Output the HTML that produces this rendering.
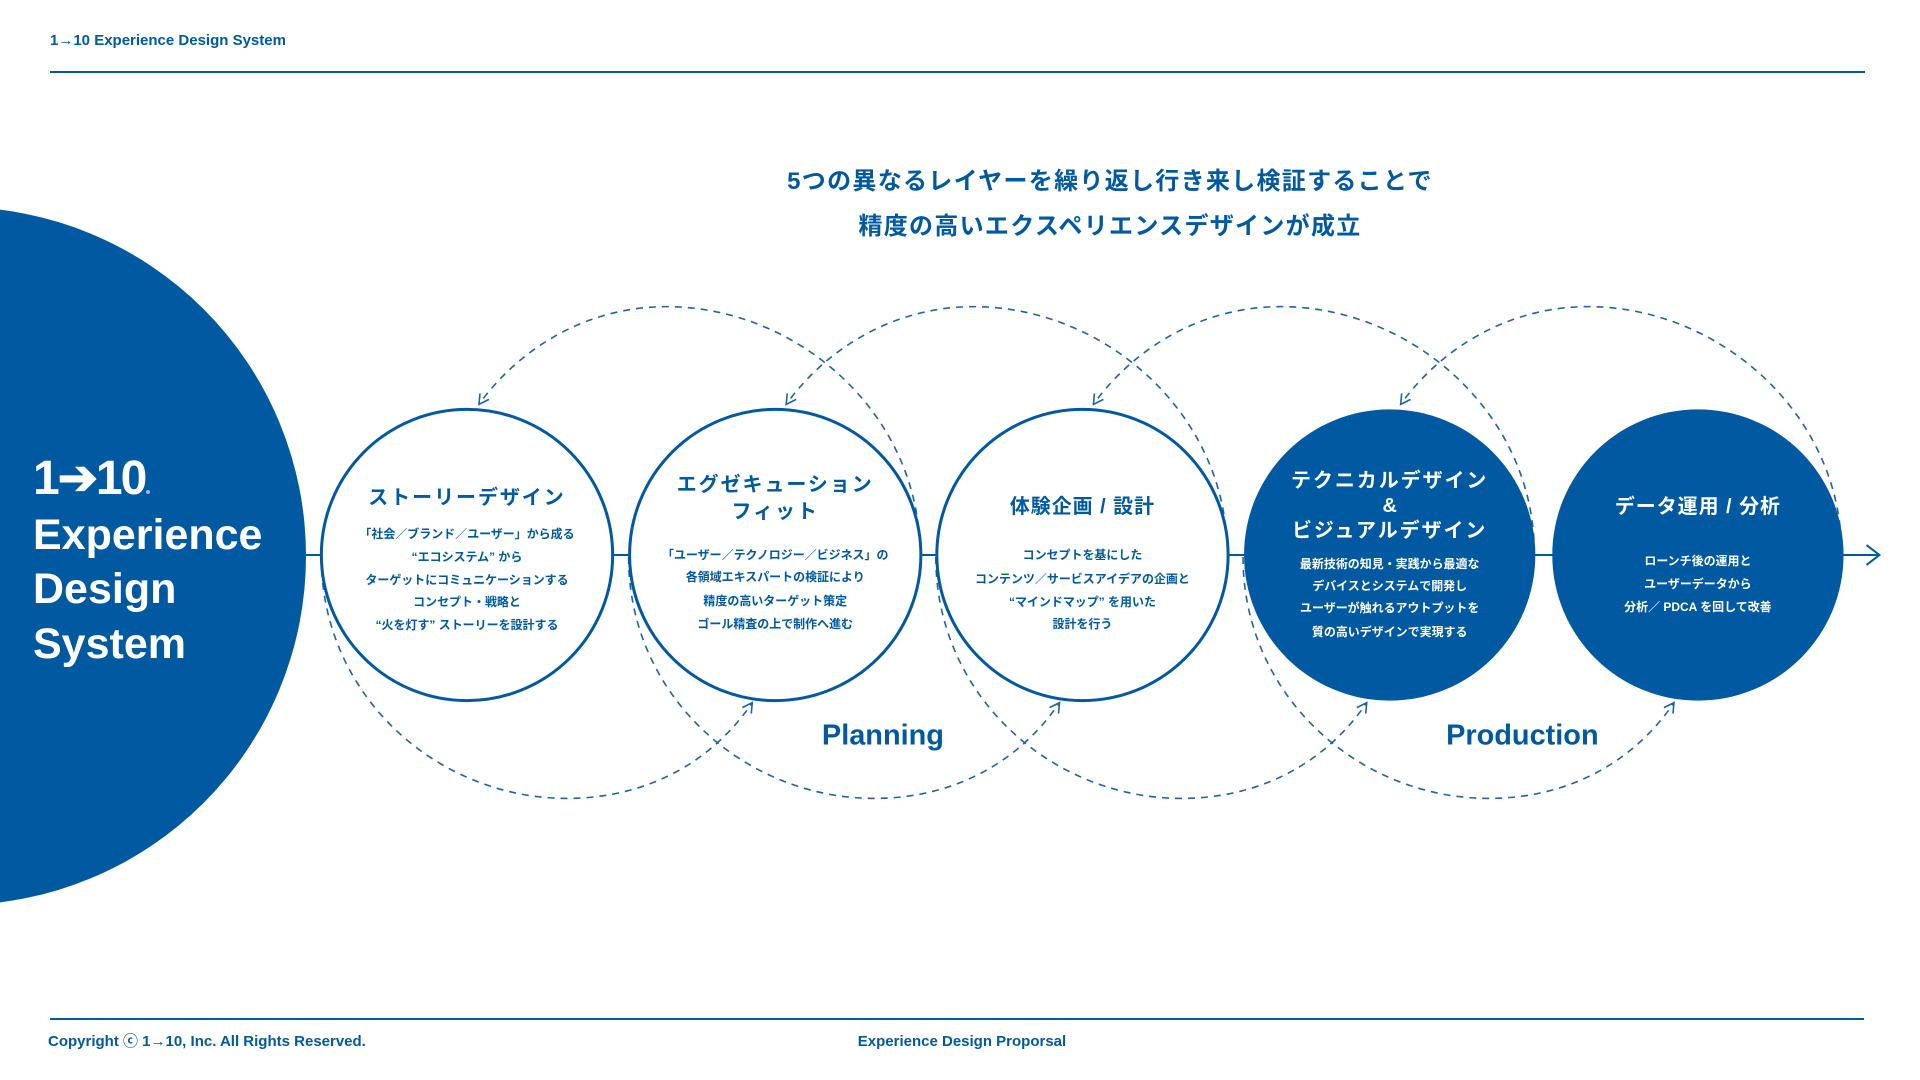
<!DOCTYPE html>
<html><head><meta charset="utf-8"><style>
html,body{margin:0;padding:0;background:#fff;}
svg{display:block}
text{font-family:"Liberation Sans","Noto Sans CJK JP",sans-serif;}
</style></head><body>
<svg width="1920" height="1080" viewBox="0 0 1920 1080" xmlns="http://www.w3.org/2000/svg">
<defs>
<g id="loop" fill="none" stroke="#1f63a6" stroke-width="1.6" stroke-dasharray="7 6">
  <path d="M323,560 C323,700 440,802 569,802 C650,802 715,765 755,706"/>
  <path d="M923,556 C923,416 800,309 669,309 C590,309 522,350 481,407"/>
</g>
<g id="arr" fill="none" stroke="#1f63a6" stroke-width="1.6">
  <path d="M491,402 L481,407 L482,396"/>
  <path d="M745,711 L755,706 L754,717"/>
</g>
</defs>
<g fill="#0059a1" font-weight="bold">
<text x="50" y="45" font-size="15">1→10 Experience Design System</text>
</g>
<line x1="50" y1="72" x2="1865" y2="72" stroke="#0059a1" stroke-width="2"/>
<line x1="50" y1="1019" x2="1864" y2="1019" stroke="#0059a1" stroke-width="2"/>
<text x="48" y="1046" font-size="15" fill="#0059a1" font-weight="bold">Copyright ⓒ 1→10, Inc. All Rights Reserved.</text>
<text x="962" y="1046" font-size="15" fill="#0059a1" font-weight="bold" text-anchor="middle">Experience Design Proporsal</text>

<text x="1110" y="189" font-size="24" fill="#0059a1" font-weight="bold" text-anchor="middle" letter-spacing="1.3">5つの異なるレイヤーを繰り返し行き来し検証することで</text>
<text x="1110" y="234" font-size="24" fill="#0059a1" font-weight="bold" text-anchor="middle" letter-spacing="1.3">精度の高いエクスペリエンスデザインが成立</text>

<circle cx="-43" cy="556" r="349" fill="#0059a1"/>
<g fill="#fff" font-weight="bold">
<text x="33" y="494" font-size="48" letter-spacing="-2">1➔10</text>
<circle cx="148" cy="492" r="2" fill="#9bb9d8"/>
<text x="33" y="549" font-size="43">Experience</text>
<text x="33" y="603" font-size="43">Design</text>
<text x="33" y="658" font-size="43">System</text>
</g>

<g transform="translate(467,555) scale(0.9975) translate(-469,-558)">
<line x1="306" y1="558" x2="1885" y2="558" stroke="#0059a1" stroke-width="2"/>
<path d="M1872,548 L1885,558 L1872,568" fill="none" stroke="#0059a1" stroke-width="2"/>

<use href="#loop"/><use href="#loop" x="308"/><use href="#loop" x="616"/><use href="#loop" x="924"/>

<circle cx="469" cy="558" r="146" fill="#fff" stroke="#0059a1" stroke-width="3"/>
<circle cx="778" cy="558" r="146" fill="#fff" stroke="#0059a1" stroke-width="3"/>
<circle cx="1086" cy="558" r="146" fill="#fff" stroke="#0059a1" stroke-width="3"/>
<circle cx="1394" cy="558" r="146" fill="#0059a1"/>
<circle cx="1703" cy="558" r="146" fill="#0059a1"/>

<use href="#arr"/><use href="#arr" x="308"/><use href="#arr" x="616"/><use href="#arr" x="924"/>

<g transform="translate(0,3)">
<g fill="#0059a1" font-weight="bold" text-anchor="middle">
<text x="469" y="504" font-size="20" letter-spacing="2">ストーリーデザイン</text>
<g font-size="12">
<text x="469" y="538">「社会／ブランド／ユーザー」から成る</text>
<text x="469" y="561">“エコシステム” から</text>
<text x="469" y="584">ターゲットにコミュニケーションする</text>
<text x="469" y="606">コンセプト・戦略と</text>
<text x="469" y="629">“火を灯す” ストーリーを設計する</text>
</g>
<text x="778" y="491" font-size="20" letter-spacing="2">エグゼキューション</text>
<text x="778" y="518" font-size="20" letter-spacing="2">フィット</text>
<g font-size="12">
<text x="778" y="559">「ユーザー／テクノロジー／ビジネス」の</text>
<text x="778" y="581">各領域エキスパートの検証により</text>
<text x="778" y="605">精度の高いターゲット策定</text>
<text x="778" y="628">ゴール精査の上で制作へ進む</text>
</g>
<text x="1086" y="513" font-size="20" letter-spacing="1">体験企画 / 設計</text>
<g font-size="12">
<text x="1086" y="559">コンセプトを基にした</text>
<text x="1086" y="583">コンテンツ／サービスアイデアの企画と</text>
<text x="1086" y="606">“マインドマップ” を用いた</text>
<text x="1086" y="628">設計を行う</text>
</g>
<text x="886" y="745" font-size="29">Planning</text>
<text x="1527" y="745" font-size="29">Production</text>
</g>
<g fill="#fff" font-weight="bold" text-anchor="middle">
<text x="1394" y="487" font-size="20" letter-spacing="2">テクニカルデザイン</text>
<text x="1394" y="512" font-size="20">&amp;</text>
<text x="1394" y="537" font-size="20" letter-spacing="2">ビジュアルデザイン</text>
<g font-size="12">
<text x="1394" y="568">最新技術の知見・実践から最適な</text>
<text x="1394" y="590">デバイスとシステムで開発し</text>
<text x="1394" y="612">ユーザーが触れるアウトプットを</text>
<text x="1394" y="636">質の高いデザインで実現する</text>
</g>
<text x="1703" y="513" font-size="20" letter-spacing="1">データ運用 / 分析</text>
<g font-size="12">
<text x="1703" y="565">ローンチ後の運用と</text>
<text x="1703" y="588">ユーザーデータから</text>
<text x="1703" y="611">分析／ PDCA を回して改善</text>
</g>
</g>
</g>
</g>
</svg>
</body></html>
